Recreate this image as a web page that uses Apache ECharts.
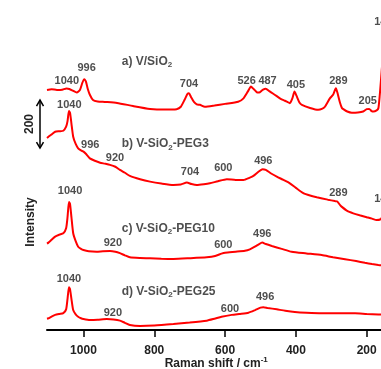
<!DOCTYPE html>
<html><head><meta charset="utf-8">
<script src="https://cdn.jsdelivr.net/npm/echarts@6/dist/echarts.min.js"></script>
<style>html,body{margin:0;padding:0;background:#fff}#c{width:381px;height:369px}</style>
</head><body><div id="c"></div>
<script>
// Raman shift (cm-1) and intensity for each trace
const aX=[1103,1090,1075,1060,1048,1040,1030,1019,1010,1003,998,993,988,982,973,960,940,905,860,812,770,737,725,714,706,702,696,688,680,671,657,630,600,563,548,535,527,520,510,504,494,485,475,465,455,443,431,417,410,404,398,390,383,360,337,325,318,304,295,287,283,276,270,266,255,242,225,210,200,193,186,181,172,167,163,160,155,150,146,142,138,130,120,110];
const aY=[1000,1003,1000,1001,1006,1004,997,989,1000,1030,1045,1035,1005,980,958,952,950,946,933,921,918,920,930,960,984,986,970,950,940,938,930,935,942,951,965,995,1014,1005,990,989,1000,1005,995,985,975,963,955,945,965,993,975,948,938,925,917,922,930,965,980,1007,990,950,925,920,910,905,906,910,920,921,912,910,915,924,980,1035,1130,1210,1245,1240,1170,1020,960,940];
const bX=[1103,1099,1090,1080,1068,1057,1049,1045,1041,1038,1034,1029,1022,1015,1007,1000,994,982,968,953,940,925,910,897,883,869,840,812,780,746,725,708,695,680,660,643,620,595,570,548,530,520,505,494,485,470,454,435,417,400,379,360,341,310,290,283,275,271,255,238,220,200,185,172,160,155,150,146,142,136,128,110];
const bY=[800,805,815,826,828,830,847,870,912,905,860,805,775,757,748,743,735,715,705,697,693,688,680,667,655,642,628,618,610,604,606,614,608,604,607,611,620,628,625,625,635,642,660,670,667,652,639,625,611,592,570,560,553,543,537,535,520,514,496,486,478,470,464,458,462,475,495,515,510,485,460,430];
const cX=[1103,1099,1090,1080,1068,1057,1049,1045,1041,1038,1034,1029,1022,1015,1007,1000,985,963,945,925,910,897,883,869,840,812,780,746,700,652,628,610,600,570,544,530,516,505,495,485,468,440,412,370,327,295,261,230,205,185,167,150,120];
const cY=[360,364,376,389,397,403,424,470,533,525,470,403,370,347,338,333,328,326,328,329,326,320,311,303,300,299,297,296,299,303,308,318,322,326,330,336,347,357,364,358,350,338,326,319,312,303,295,287,280,275,271,268,265];
const dX=[1103,1099,1090,1080,1068,1057,1049,1045,1041,1038,1034,1029,1022,1015,1007,1000,982,960,934,915,897,883,869,840,800,746,700,652,630,610,581,560,534,515,500,492,480,454,430,403,370,327,280,233,200,167,130];
const dY=[47,49,56,63,67,70,86,130,178,170,130,83,65,55,49,46,42,43,46,44,39,30,21,17,19,25,31,39,47,55,63,67,72,83,93,95,92,86,80,75,72,70,70,70,67,65,63];

// peak annotations
const peakText=['1040','996','704','526','487','405','289','205','144',
                '1040','996','920','704','600','496','289','144',
                '1040','920','600','496',
                '1040','920','600','496'];
const peakWave=[1047,991,702,539,480,400,280,197,153,
                1040,981,911,699,605,492,280,153,
                1038,917,605,495,
                1041,917,586,487];
const peakInt=[1037,1092,1024,1039,1039,1021,1039,955,1283,
               937,771,715,660,674,704,572,546,
               579,361,356,400,
               212,70,87,136];
// trace titles
const titleText=['a) V/SiO{s|2}','b) V-SiO{s|2}-PEG3','c) V-SiO{s|2}-PEG10','d) V-SiO{s|2}-PEG25'];
const titleWave=[892,892,892,892];
const titleInt=[1118,775,424,160];
const xTicks=[0,1103,200];
const scaleBar=[758,958];

const FF="'Liberation Sans', Arial, sans-serif";
const pair=(xs,ys)=>xs.map((x,i)=>[x,ys[i]]);
const lineSeries=(xs,ys)=>({type:'line',data:pair(xs,ys),showSymbol:false,smooth:0.2,
  lineStyle:{color:'#ff0000',width:2},itemStyle:{color:'#ff0000'},animation:false,silent:true});
const subRich={s:{fontSize:8,fontWeight:'bold',fontFamily:FF,color:'#222',padding:[7,0,0,0]}};

const labelData=[];
peakText.forEach((t,i)=>labelData.push({value:[peakWave[i],peakInt[i]],
  label:{formatter:t,fontSize:11,align:'center',verticalAlign:'middle'}}));
titleText.forEach((t,i)=>labelData.push({value:[titleWave[i],titleInt[i]],
  label:{formatter:t,fontSize:12,align:'left',verticalAlign:'middle',rich:subRich}}));

const chart=echarts.init(document.getElementById('c'),null,{renderer:'canvas'});
chart.setOption({
  animation:false,
  backgroundColor:'#fff',
  grid:{left:47,top:10,width:390.5,bottom:39,containLabel:false,outerBoundsMode:'none'},
  xAxis:{type:'value',min:xTicks[0],max:xTicks[1],interval:xTicks[2],inverse:true,
    axisLine:{show:true,lineStyle:{color:'#000',width:2}},
    axisTick:{show:true,length:7,lineStyle:{color:'#000',width:1.5}},
    axisLabel:{fontSize:12,fontWeight:'bold',color:'#222',margin:15,fontFamily:FF,
      showMaxLabel:false,formatter:v=>String(v)},
    splitLine:{show:false},
    name:'Raman shift / cm{u|-1}',nameLocation:'middle',nameGap:26,nameMoveOverlap:false,
    nameTextStyle:{fontSize:12,fontWeight:'bold',color:'#222',fontFamily:FF,padding:[0,52,0,0],
      rich:{u:{fontSize:8,fontWeight:'bold',color:'#222',fontFamily:FF,padding:[0,0,7,0]}}}},
  yAxis:{type:'value',min:0,max:1333,
    axisLine:{show:true,lineStyle:{color:'#000',width:2}},
    axisTick:{show:false},axisLabel:{show:false},splitLine:{show:false},
    name:'Intensity',nameLocation:'middle',nameGap:10,nameMoveOverlap:false,
    nameTextStyle:{fontSize:12,fontWeight:'bold',color:'#222',fontFamily:FF,padding:[0,104,0,0]}},
  series:[lineSeries(aX,aY),lineSeries(bX,bY),lineSeries(cX,cY),lineSeries(dX,dY),
    {type:'scatter',data:labelData,symbolSize:0,silent:true,clip:false,animation:false,z:5,
     label:{show:true,position:'inside',color:'#222',fontWeight:'bold',fontFamily:FF}}]
});

// scale bar (200 counts) placed from data coordinates, just left of the y axis
const p1=chart.convertToPixel({gridIndex:0},[xTicks[1],scaleBar[1]]);
const p2=chart.convertToPixel({gridIndex:0},[xTicks[1],scaleBar[0]]);
const bx=p1[0]-7, yt=p1[1], yb=p2[1];
chart.setOption({graphic:[
  {type:'line',shape:{x1:bx,y1:yt,x2:bx,y2:yb},style:{stroke:'#000',lineWidth:1.5}},
  {type:'polyline',shape:{points:[[bx-3.5,yt+6],[bx,yt],[bx+3.5,yt+6]]},style:{stroke:'#000',lineWidth:1.5,fill:null}},
  {type:'polyline',shape:{points:[[bx-3.5,yb-6],[bx,yb],[bx+3.5,yb-6]]},style:{stroke:'#000',lineWidth:1.5,fill:null}},
  {type:'text',x:bx-10,y:(yt+yb)/2,rotation:Math.PI/2,
   style:{text:'200',font:"bold 12px 'Liberation Sans', Arial, sans-serif",fill:'#222',align:'center',verticalAlign:'middle'}}
]});
</script></body></html>
